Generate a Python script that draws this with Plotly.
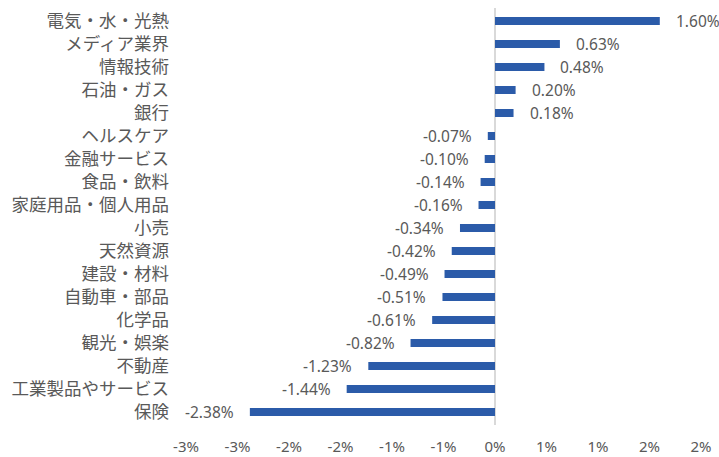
import plotly.graph_objects as go

categories = ["電気・水・光熱", "メディア業界", "情報技術", "石油・ガス", "銀行",
              "ヘルスケア", "金融サービス", "食品・飲料", "家庭用品・個人用品", "小売",
              "天然資源", "建設・材料", "自動車・部品", "化学品", "観光・娯楽",
              "不動産", "工業製品やサービス", "保険"]
values = [1.60, 0.63, 0.48, 0.20, 0.18,
          -0.07, -0.10, -0.14, -0.16, -0.34,
          -0.42, -0.49, -0.51, -0.61, -0.82,
          -1.23, -1.44, -2.38]
tick_values = [-3.0, -2.5, -2.0, -1.5, -1.0, -0.5, 0.0, 0.5, 1.0, 1.5, 2.0]
tick_labels = ["-3%", "-3%", "-2%", "-2%", "-1%", "-1%", "0%", "1%", "1%", "2%", "2%"]

GREY = "#595959"
NUM_FONT = "Noto Sans"
JP_FONT = "Noto Sans CJK JP"

fig = go.Figure()
fig.add_trace(go.Bar(
    x=values, y=categories, orientation="h",
    marker=dict(color="#2B5BA9", line=dict(width=0)),
    hoverinfo="skip",
))

for c, v in zip(categories, values):
    fig.add_annotation(
        x=v, y=c, xref="x", yref="y",
        text=f"{v:.2f}%", showarrow=False,
        xanchor="left" if v >= 0 else "right",
        xshift=14 if v >= 0 else -14,
        font=dict(family=NUM_FONT, size=15.5, color=GREY),
    )

fig.update_layout(
    width=719, height=457,
    margin=dict(l=186, r=18, t=8, b=32, autoexpand=False),
    paper_bgcolor="white", plot_bgcolor="white",
    bargap=0.65,
    showlegend=False,
    xaxis=dict(
        range=[-3.0, 2.0],
        tickvals=tick_values, ticktext=tick_labels,
        showgrid=False, zeroline=True, zerolinecolor="#D9D9D9", zerolinewidth=2,
        showline=False, ticks="", automargin=False,
        tickfont=dict(family=NUM_FONT, size=15, color=GREY),
        ticklabelstandoff=11,
    ),
    yaxis=dict(
        categoryorder="array", categoryarray=categories,
        autorange="reversed", automargin=False,
        showgrid=False, showline=False, ticks="",
        tickfont=dict(family=JP_FONT, size=17.5, color=GREY),
        ticklabelstandoff=16,
    ),
)

fig.write_html(
    "out.html",
    config={"displayModeBar": False},
    post_script="document.body.style.margin='0';document.body.style.padding='0';",
)
